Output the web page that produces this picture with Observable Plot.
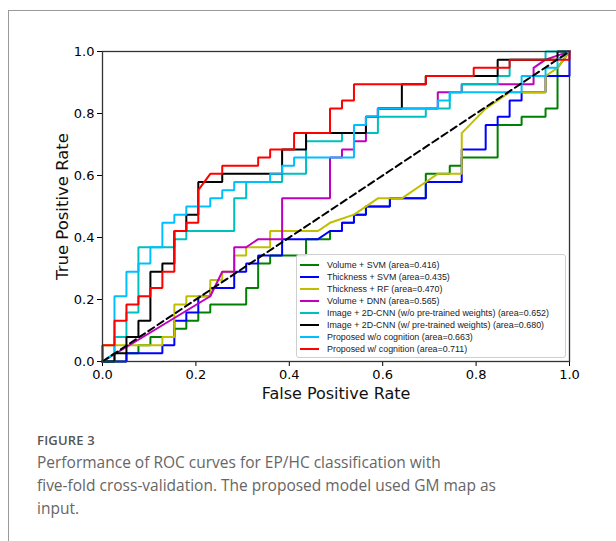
<!DOCTYPE html>
<html>
<head>
<meta charset="utf-8">
<script src="https://cdn.jsdelivr.net/npm/d3@7"></script>
<script src="https://cdn.jsdelivr.net/npm/@observablehq/plot@0.6"></script>
<style>
  html, body { margin: 0; padding: 0; background: #fff; }
  #wrap { position: relative; width: 616px; height: 541px; overflow: hidden; background: #fff; }
  #card { position: absolute; left: 8px; top: 10px; width: 700px; height: 600px;
          border-top: 1.5px solid #9a9a9a; border-left: 1.5px solid #9a9a9a; box-sizing: border-box; }
  #chart { position: absolute; left: 0; top: 0; }
  #legend { position: absolute; left: 296px; top: 254px; width: 270px; height: 104px;
            border: 1px solid #cfcfcf; border-radius: 3px; background: rgba(255,255,255,0.85);
            box-sizing: border-box; font-family: "Liberation Sans", Arial, sans-serif; font-size: 8.9px; color: #222; }
  .row { position: absolute; left: 0; height: 12px; display: flex; align-items: center; white-space: nowrap; }
  .sw { display: inline-block; width: 19px; height: 2px; margin-left: 3px; margin-right: 8px; }
  #caption { position: absolute; left: 37px; top: 430px; width: 470px; font-family: "Open Sans", sans-serif; color: #666; }
  #fig { font-size: 13px; font-weight: 600; color: #555; letter-spacing: 0.2px; line-height: 20px; }
  #capText { font-size: 15.5px; line-height: 23px; margin-top: 1px; }
</style>
</head>
<body>
<div id="wrap">
  <div id="card"></div>
  <div id="chart"></div>
  <div id="legend"></div>
  <div id="caption">
    <div id="fig">FIGURE 3</div>
    <div id="capText">Performance of ROC curves for EP/HC classification with<br>five-fold cross-validation. The proposed model used GM map as<br>input.</div>
  </div>
</div>
<script>
// ROC curves as [false positives, true positives] counts
// (39 negatives, 38 positives)
const N_NEG = 39;
const N_POS = 38;

const seriesNames = [
  "Volume + SVM (area=0.416)",
  "Thickness + SVM (area=0.435)",
  "Thickness + RF (area=0.470)",
  "Volume + DNN (area=0.565)",
  "Image + 2D-CNN (w/o pre-trained weights) (area=0.652)",
  "Image + 2D-CNN (w/ pre-trained weights) (area=0.680)",
  "Proposed w/o cognition (area=0.663)",
  "Proposed w/ cognition (area=0.711)"
];
const seriesColors = ["#008000", "#0000ff", "#bfbf00", "#bf00bf", "#00bfbf", "#000000", "#00bfff", "#ff0000"];

const volumeSvm = [[0,0],[2,0],[2,1],[3,1],[3,2],[4,2],[4,3],[6,3],[6,4],[7,4],[7,5],[8,5],[8,6],[9,6],[9,7],[12,7],[12,9],[13,9],[13,12],[14,12],[14,13],[17,13],[17,15],[19,15],[19,16],[20,16],[20,17],[21,17],[21,18],[22,18],[22,19],[24,19],[24,20],[27,20],[27,23],[29,23],[29,24],[30,24],[30,25],[33,25],[33,29],[35,29],[35,30],[37,30],[37,31],[38,31],[38,36],[39,38]];
const thicknessSvm = [[0,0],[2,0],[2,1],[5,1],[5,2],[6,2],[6,5],[7,5],[7,6],[8,6],[8,8],[9,8],[9,9],[11,9],[11,11],[12,11],[12,12],[13,12],[13,13],[15,13],[15,15],[18,15],[19,16],[20,16],[20,17],[21,17],[21,18],[22,18],[22,19],[24,19],[24,20],[27,20],[27,22],[30,22],[30,26],[32,26],[32,29],[33,29],[33,30],[34,30],[34,32],[35,32],[35,33],[37,33],[37,35],[39,35],[39,38]];
const thicknessRf = [[0,0],[0,2],[5,2],[5,3],[6,3],[6,7],[7,7],[7,8],[9,8],[9,10],[10,10],[10,11],[11,11],[11,13],[12,13],[12,14],[14,14],[14,16],[18,16],[19,17],[21,18],[23,20],[25,20],[27,22],[28,23],[30,23],[30,28],[32,31],[34,33],[37,33],[37,35],[38,36],[39,38]];
const volumeDnn = [[0,0],[9,8],[10,11],[11,11],[11,14],[12,14],[13,15],[15,15],[15,20],[19,20],[19,25],[20,25],[20,26],[21,26],[21,27],[22,27],[22,30],[23,30],[23,31],[28,31],[28,33],[30,33],[30,34],[36,34],[36,36],[37,37],[39,38]];
const cnnScratch = [[0,0],[1,0],[1,3],[2,3],[2,6],[3,6],[3,14],[6,14],[6,15],[7,15],[7,16],[11,16],[11,20],[12,20],[12,22],[15,22],[15,23],[17,23],[17,27],[20,27],[20,28],[23,28],[23,30],[27,30],[27,31],[29,31],[29,33],[30,33],[30,34],[33,34],[33,35],[34,35],[34,37],[37,37],[37,38],[39,38]];
const cnnPretrained = [[0,0],[1,0],[1,1],[2,1],[2,3],[3,3],[3,5],[4,5],[4,11],[5,11],[5,12],[6,12],[6,16],[7,16],[7,18],[8,18],[8,22],[10,22],[10,23],[15,23],[15,26],[17,26],[17,28],[22,28],[22,30],[23,30],[23,31],[25,31],[25,34],[27,34],[27,35],[33,35],[33,37],[38,37],[38,38],[39,38]];
const proposedNoCog = [[0,0],[1,1],[1,8],[2,8],[2,11],[3,11],[3,12],[4,12],[4,14],[5,14],[5,17],[6,17],[6,18],[7,18],[7,19],[9,19],[9,20],[10,20],[10,21],[11,21],[11,22],[14,22],[14,23],[15,23],[15,24],[16,24],[16,25],[21,25],[21,29],[22,29],[22,30],[23,30],[23,31],[28,31],[28,32],[29,32],[29,33],[35,33],[35,35],[37,35],[37,36],[38,36],[38,37],[39,38]];
const proposedCog = [[0,0],[0,2],[1,2],[1,5],[2,5],[2,7],[3,7],[3,8],[4,8],[4,9],[5,9],[5,11],[6,11],[6,16],[7,16],[7,17],[8,17],[8,21],[9,23],[10,23],[10,24],[13,24],[13,25],[14,25],[14,26],[16,26],[16,28],[19,28],[19,31],[20,31],[20,32],[21,32],[21,34],[27,34],[27,35],[31,35],[31,36],[34,36],[34,37],[39,37],[39,38]];

const curves = [volumeSvm, thicknessSvm, thicknessRf, volumeDnn, cnnScratch, cnnPretrained, proposedNoCog, proposedCog];
const axisTicks = [0, 0.2, 0.4, 0.6, 0.8, 1.0];
const chanceLine = [0, 1];

const rows = curves.flatMap((pts, i) =>
  pts.map(([fp, tp]) => ({series: seriesNames[i], fpr: fp / N_NEG, tpr: tp / N_POS})));

const chart = Plot.plot({
  width: 616,
  height: 420,
  marginLeft: 102,
  marginRight: 47,
  marginTop: 51,
  marginBottom: 59,
  style: {fontFamily: "DejaVu Sans, sans-serif", fontSize: "13px", color: "#000", background: "transparent"},
  x: {domain: [0, 1], ticks: axisTicks, tickFormat: d3.format(".1f"), tickSize: 5, tickPadding: 3, label: null},
  y: {domain: [0, 1], ticks: axisTicks, tickFormat: d3.format(".1f"), tickSize: 5, tickPadding: 3, label: null},
  color: {domain: seriesNames, range: seriesColors},
  marks: [
    Plot.line(rows, {x: "fpr", y: "tpr", z: "series", stroke: "series", strokeWidth: 2, strokeLinejoin: "miter", strokeLinecap: "square"}),
    Plot.line(chanceLine, {x: d => d, y: d => d, stroke: "#000", strokeWidth: 2, strokeDasharray: "7,4"}),
    Plot.frame({stroke: "#333", strokeWidth: 1.3}),
    Plot.text(["False Positive Rate"], {text: d => d, frameAnchor: "bottom", dy: 32, lineAnchor: "middle", fontSize: 16, fill: "#111"}),
    Plot.text(["True Positive Rate"], {text: d => d, frameAnchor: "left", dx: -40, rotate: -90, lineAnchor: "middle", textAnchor: "middle", fontSize: 16.5, fill: "#111"})
  ]
});
document.getElementById("chart").appendChild(chart);

// legend
const legend = document.getElementById("legend");
seriesNames.forEach((name, i) => {
  const row = document.createElement("div");
  row.className = "row";
  row.style.top = (4 + i * 12.05) + "px";
  const sw = document.createElement("span");
  sw.className = "sw";
  sw.style.background = seriesColors[i];
  const tx = document.createElement("span");
  tx.textContent = name;
  row.appendChild(sw);
  row.appendChild(tx);
  legend.appendChild(row);
});
</script>
</body>
</html>
